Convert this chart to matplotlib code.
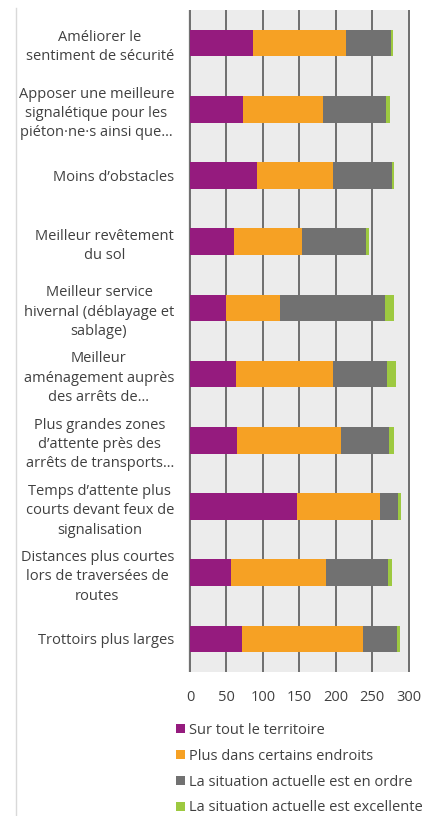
import matplotlib
matplotlib.use("Agg")
import matplotlib.pyplot as plt
from matplotlib.patches import Patch
from matplotlib.lines import Line2D
import numpy as np

plt.rcParams['font.family'] = ['Open Sans', 'DejaVu Sans']

categories = [
    "Améliorer le\nsentiment de sécurité",
    "Apposer une meilleure\nsignalétique pour les\npiéton·ne·s ainsi que…",
    "Moins d’obstacles",
    "Meilleur revêtement\ndu sol",
    "Meilleur service\nhivernal (déblayage et\nsablage)",
    "Meilleur\naménagement auprès\ndes arrêts de…",
    "Plus grandes zones\nd’attente près des\narrêts de transports…",
    "Temps d’attente plus\ncourts devant feux de\nsignalisation",
    "Distances plus courtes\nlors de traversées de\nroutes",
    "Trottoirs plus larges",
]
series_names = [
    "Sur tout le territoire",
    "Plus dans certains endroits",
    "La situation actuelle est en ordre",
    "La situation actuelle est excellente",
]
sur_tout = [87, 73, 92, 60, 49, 63, 65, 147, 57, 71]
certains = [127, 109, 104, 94, 75, 134, 142, 114, 130, 167]
en_ordre = [62, 87, 81, 87, 144, 74, 66, 25, 85, 46]
excellente = [2, 5, 3, 5, 12, 12, 7, 3, 5, 4]
xticks = [0, 50, 100, 150, 200, 250, 300]

colors = ['#951b7e', '#f6a124', '#717171', '#9dc940']
text_color = '#404040'
fs = 10.5

fig = plt.figure(figsize=(4.35, 8.16), dpi=100)
ax = fig.add_axes([188 / 435, 1 - 672 / 816, 222 / 435, 662 / 816])
ax.set_facecolor('#ececec')

y = np.arange(len(categories))
left = np.zeros(len(categories))
for vals, name, c in zip([sur_tout, certains, en_ordre, excellente], series_names, colors):
    ax.barh(y, vals, left=left, height=0.4, color=c, label=name)
    left += np.array(vals)

ax.set_ylim(len(categories) - 0.5, -0.5)
ax.set_xlim(-2.7, 302)
ax.set_xticks(xticks)
ax.set_yticks(y)
ax.set_yticklabels(categories, ha='right', multialignment='center', linespacing=1.4)
ax.tick_params(axis='both', length=0, labelsize=fs, colors=text_color)
ax.tick_params(axis='y', pad=10)
ax.tick_params(axis='x', pad=13)
ax.set_axisbelow(True)
ax.grid(axis='x', color='#595959', linewidth=1.2)
for s in ax.spines.values():
    s.set_visible(False)

handles = [Patch(facecolor=c, edgecolor='none') for c in colors]
fig.legend(handles, series_names, loc='upper left', bbox_to_anchor=(176 / 435, 1 - 723 / 816),
           frameon=False, fontsize=fs, labelcolor=text_color, handlelength=0.6, handleheight=0.6,
           handletextpad=0.3, labelspacing=0.74, borderpad=0, borderaxespad=0)

# light frame line at the left of the chart area
fig.add_artist(Line2D([16 / 435, 16 / 435], [0, 1 - 8 / 816], color='#d9d9d9', linewidth=1))

fig.savefig("out.png", dpi=100)
